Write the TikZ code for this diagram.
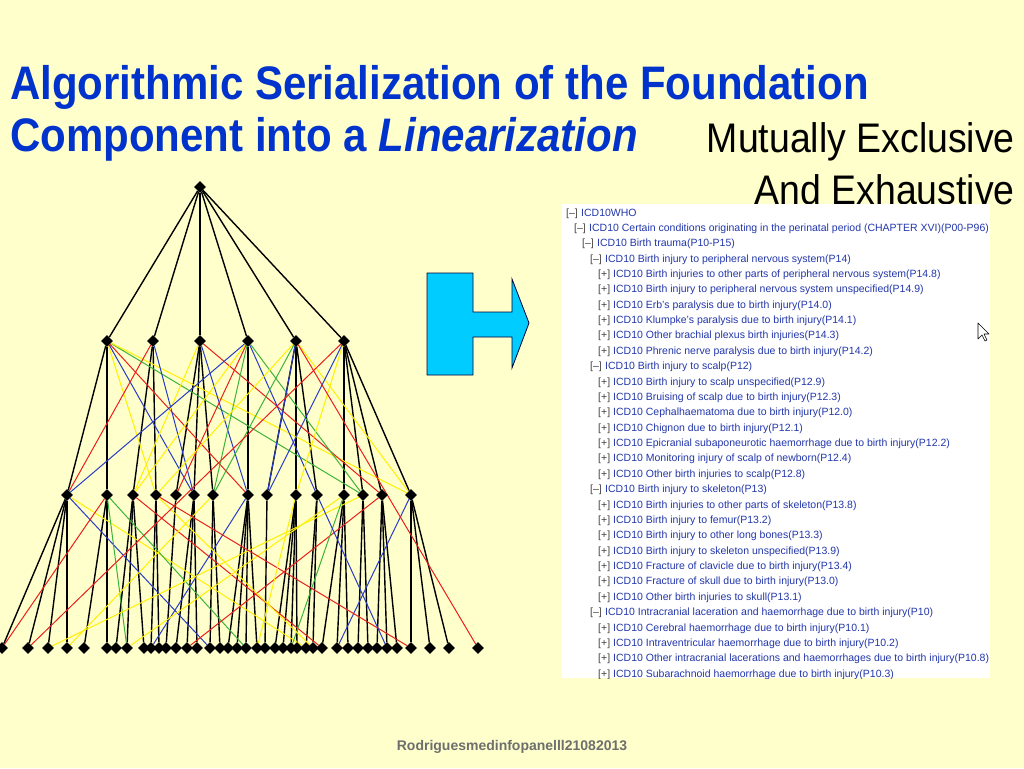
\documentclass[tikz,border=0pt]{standalone}
\usepackage{fontspec}
\setmainfont{Liberation Sans}
\usetikzlibrary{shapes.geometric}

\definecolor{slidebg}{RGB}{255,255,204}
\definecolor{titleblue}{RGB}{0,51,204}
\definecolor{listblue}{RGB}{35,55,170}
\definecolor{arrowcyan}{RGB}{0,204,255}
\definecolor{linkblue}{RGB}{40,60,200}
\definecolor{linkgreen}{RGB}{60,180,60}
\definecolor{linkyellow}{RGB}{255,240,0}
\definecolor{linkred}{RGB}{235,30,30}
\definecolor{footgray}{RGB}{110,110,110}

\pgfdeclarelayer{background}
\pgfsetlayers{background,main}

\tikzset{
  concept/.style={diamond, fill=black, inner sep=0pt, minimum size=12pt},
  treeedge/.style={black, line width=1.4pt},
  polyedge/.style={line width=1pt},
  title/.style={anchor=base west, inner sep=0pt, text=titleblue,
    font=\fontsize{42}{50}\selectfont\bfseries},
  claim/.style={anchor=base east, inner sep=0pt, text=black,
    font=\fontsize{39}{46}\selectfont},
  listmark/.style={anchor=base west, inner sep=0pt, text=black!75,
    font=\fontsize{10.5}{12}\selectfont},
  listitem/.style={anchor=base west, inner sep=0pt, text=listblue,
    font=\fontsize{10.5}{12}\selectfont},
}

\begin{document}
\begin{tikzpicture}[x=1pt,y=-1pt]

    % ============================================
    % Slide and headings
    % ============================================
    \begin{pgfonlayer}{background}
        \fill[slidebg] (0,0) rectangle (1024,768);
    \end{pgfonlayer}
    \useasboundingbox (0,0) rectangle (1024,768);

    \node[title] (head1) at (10,99) {\scalebox{1}[1.12]{Algorithmic Serialization of the Foundation}};
    \node[title] (head2) at (10,151) {\scalebox{1}[1.12]{Component into a \textit{Linearization}}};
    \node[claim] (claim1) at (1015,152) {\scalebox{0.96}[1.06]{Mutually Exclusive}};
    \node[claim] (claim2) at (1015,204) {\scalebox{0.96}[1.06]{And Exhaustive}};

    % ============================================
    % LEFT SIDE – foundation graph
    % ============================================

    \node[concept] (root) at (200,187) {};
    \foreach \x [count=\i] in {107,153,200,248,296,344}
        \node[concept] (m\i) at (\x,341) {};
    \foreach \x [count=\i] in {67,107,133,156,176,194,213,248,267,296,317,344,363,382,411}
        \node[concept] (t\i) at (\x,495) {};
    \foreach \x [count=\i] in {2,28,48,67,84,107,116,127,144,151,159,166,176,187,197,
        210,220,228,237,246,257,265,275,283,291,297,306,313,322,337,348,358,368,377,
        387,397,411,430,449,478}
        \node[concept] (b\i) at (\x,648) {};

    \begin{pgfonlayer}{background}
        % tree links (black)
        \foreach \i in {1,...,6}
            \draw[treeedge] (root) -- (m\i);
        \foreach \a/\b in {1/1,1/2,2/3,2/4,3/5,3/6,3/7,4/8,5/9,5/10,5/11,6/12,6/13,6/14,6/15}
            \draw[treeedge] (m\a) -- (t\b);
        \foreach \a/\b in {1/1,1/2,1/3,1/4,2/5,2/6,3/7,3/8,3/9,4/10,4/11,5/12,6/13,6/14,6/15,
            7/16,7/17,8/18,8/19,8/20,8/21,9/22,10/23,10/24,10/25,10/26,11/27,11/28,
            12/29,12/30,12/31,13/32,13/33,14/34,14/35,14/36,15/37,15/38,15/39}
            \draw[treeedge] (t\a) -- (b\b);

        % extra parents (coloured)
        \foreach \a/\b/\c in {1/4/linkyellow,1/6/linkblue,1/8/linkred,1/13/linkgreen,
            1/15/linkyellow,2/1/linkred,2/6/linkblue,3/3/linkyellow,3/8/linkblue,
            3/14/linkred,4/1/linkblue,4/3/linkyellow,4/5/linkred,4/7/linkgreen,
            4/11/linkblue,4/13/linkgreen,5/4/linkyellow,5/7/linkgreen,5/9/linkblue,
            5/15/linkyellow,6/9/linkblue,6/10/linkyellow}
            \draw[polyedge,\c] (m\a) -- (t\b);
        \foreach \a/\b/\c in {1/16/linkblue,1/27/linkyellow,2/1/linkred,2/8/linkgreen,
            2/20/linkgreen,3/29/linkred,7/4/linkyellow,8/10/linkblue,14/14/linkred,
            13/3/linkyellow,12/8/linkyellow,15/30/linkblue,12/25/linkgreen,4/37/linkred,
            4/28/linkyellow,11/35/linkblue,10/21/linkyellow}
            \draw[polyedge,\c] (t\a) -- (b\b);
        \draw[polyedge,linkred] (m5) -- (b40);
        \draw[polyedge,linkred] (m6) -- (b2);
    \end{pgfonlayer}

    % ============================================
    % Arrow between the two sides
    % ============================================
    \draw[fill=arrowcyan, draw=black!80!blue, line width=0.8pt]
        (427,273) -- (473,273) -- (473,312) -- (512,312) -- (512,279)
        -- (529,323) -- (512,368) -- (512,337) -- (473,337) -- (473,375)
        -- (427,375) -- cycle;

    % ============================================
    % RIGHT SIDE – linearization
    % ============================================
    \fill[white] (562,204) rectangle (990,678);
    \begin{scope}
        \clip (562,204) rectangle (990,678);
        \foreach \lvl/\mk/\txt [count=\i] in {
            0/--/ICD10WHO,
            1/--/ICD10 Certain conditions originating in the perinatal period (CHAPTER XVI)(P00-P96),
            2/--/ICD10 Birth trauma(P10-P15),
            3/--/ICD10 Birth injury to peripheral nervous system(P14),
            4/+/ICD10 Birth injuries to other parts of peripheral nervous system(P14.8),
            4/+/ICD10 Birth injury to peripheral nervous system unspecified(P14.9),
            4/+/ICD10 Erb's paralysis due to birth injury(P14.0),
            4/+/ICD10 Klumpke's paralysis due to birth injury(P14.1),
            4/+/ICD10 Other brachial plexus birth injuries(P14.3),
            4/+/ICD10 Phrenic nerve paralysis due to birth injury(P14.2),
            3/--/ICD10 Birth injury to scalp(P12),
            4/+/ICD10 Birth injury to scalp unspecified(P12.9),
            4/+/ICD10 Bruising of scalp due to birth injury(P12.3),
            4/+/ICD10 Cephalhaematoma due to birth injury(P12.0),
            4/+/ICD10 Chignon due to birth injury(P12.1),
            4/+/ICD10 Epicranial subaponeurotic haemorrhage due to birth injury(P12.2),
            4/+/ICD10 Monitoring injury of scalp of newborn(P12.4),
            4/+/ICD10 Other birth injuries to scalp(P12.8),
            3/--/ICD10 Birth injury to skeleton(P13),
            4/+/ICD10 Birth injuries to other parts of skeleton(P13.8),
            4/+/ICD10 Birth injury to femur(P13.2),
            4/+/ICD10 Birth injury to other long bones(P13.3),
            4/+/ICD10 Birth injury to skeleton unspecified(P13.9),
            4/+/ICD10 Fracture of clavicle due to birth injury(P13.4),
            4/+/ICD10 Fracture of skull due to birth injury(P13.0),
            4/+/ICD10 Other birth injuries to skull(P13.1),
            3/--/ICD10 Intracranial laceration and haemorrhage due to birth injury(P10),
            4/+/ICD10 Cerebral haemorrhage due to birth injury(P10.1),
            4/+/ICD10 Intraventricular haemorrhage due to birth injury(P10.2),
            4/+/ICD10 Other intracranial lacerations and haemorrhages due to birth injury(P10.8),
            4/+/ICD10 Subarachnoid haemorrhage due to birth injury(P10.3)}
        {
            \node[listmark] (mk\i) at ({566+8*\lvl},{216+15.37*(\i-1)}) {[\mk]};
            \node[listitem] (it\i) at ({581+8*\lvl},{216+15.37*(\i-1)}) {\txt};
        }
    \end{scope}

    % mouse pointer
    \draw[fill=white, line width=0.6pt, line join=round]
        (978,323) -- (978,339) -- (982,335) -- (985,341) -- (987,340)
        -- (984,334) -- (989,334) -- cycle;

    % footer
    \node[anchor=base, inner sep=0pt, text=footgray,
        font=\fontsize{14}{16}\selectfont\bfseries] (foot) at (512,750)
        {Rodriguesmedinfopanelll21082013};

\end{tikzpicture}
\end{document}
